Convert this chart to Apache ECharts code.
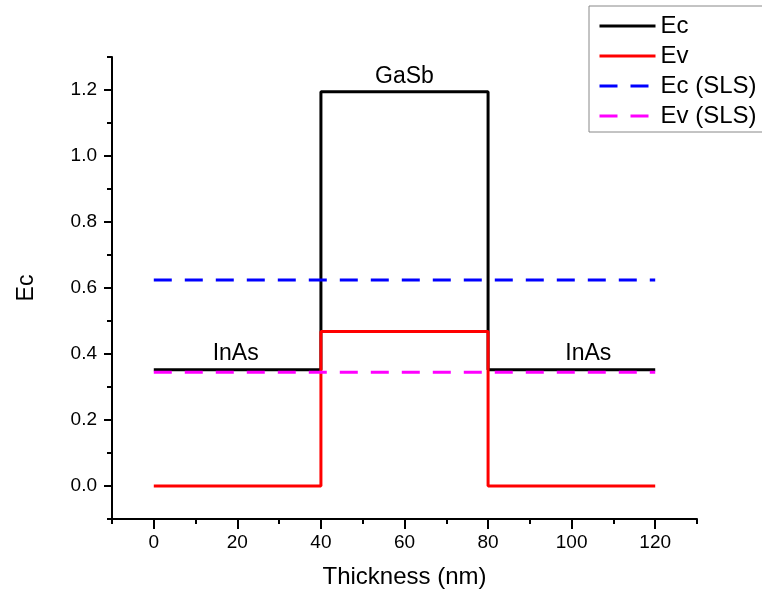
<!DOCTYPE html>
<html>
<head>
<meta charset="utf-8">
<script src="https://cdn.jsdelivr.net/npm/echarts@6/dist/echarts.min.js"></script>
<style>
html,body{margin:0;padding:0;background:#fff;}
#chart{width:762px;height:597px;}
</style>
</head>
<body>
<div id="chart"></div>
<script>
// ---- data ----
const layerBounds = [0, 40, 80, 120];          // nm
const ecLevels = [0.352, 1.195, 0.352];         // Ec per layer (InAs, GaSb, InAs)
const evLevels = [0.0, 0.468, 0.0];             // Ev per layer
const ecSLS = 0.624;
const evSLS = 0.345;
const seriesNames = ['Ec', 'Ev', 'Ec (SLS)', 'Ev (SLS)'];
const xTickLabels = [0, 20, 40, 60, 80, 100, 120];
const yTickLabels = [0.0, 0.2, 0.4, 0.6, 0.8, 1.0, 1.2];
const annotationText = ['GaSb', 'InAs', 'InAs'];
const annotationX = [60, 19.6, 104];
const annotationY = [1.207, 0.366, 0.366];

function stepPoints(bounds, levels) {
  const pts = [];
  for (let i = 0; i < levels.length; i++) {
    pts.push([bounds[i], levels[i]]);
    pts.push([bounds[i + 1], levels[i]]);
  }
  return pts;
}
function flat(bounds, v) {
  return [[bounds[0], v], [bounds[bounds.length - 1], v]];
}

const FONT = "'Liberation Sans', Arial, sans-serif";
const chart = echarts.init(document.getElementById('chart'), null, {renderer: 'canvas'});

const minorTickX = {min: -10, max: 130, interval: 10};
const minorTickY = {min: -0.1, max: 1.3, interval: 0.1};

const option = {
  animation: false,
  backgroundColor: '#fff',
  grid: {left: 112, right: 65, top: 57, bottom: 78, containLabel: false},
  legend: {
    data: seriesNames,
    orient: 'vertical',
    left: 589,
    top: 6,
    padding: [8, 20, 4, 9],
    itemWidth: 56,
    itemHeight: 14,
    itemGap: 6,
    borderColor: '#888',
    borderWidth: 1,
    itemStyle: {opacity: 0},
    lineStyle: {width: 3},
    textStyle: {fontFamily: FONT, fontSize: 24, color: '#000'}
  },
  xAxis: [
    {
      type: 'value',
      min: minorTickX.min, max: minorTickX.max, interval: minorTickX.interval,
      position: 'bottom',
      name: 'Thickness (nm)',
      nameLocation: 'middle',
      nameGap: 46,
      nameTextStyle: {fontFamily: FONT, fontSize: 24, color: '#000'},
      axisLine: {show: true, onZero: false, lineStyle: {color: '#000', width: 2}},
      axisTick: {show: true, inside: false, length: 5, lineStyle: {color: '#000', width: 2}},
      axisLabel: {
        show: true, margin: 14, customValues: xTickLabels,
        fontFamily: FONT, fontSize: 19, color: '#000',
        formatter: v => String(Math.round(v))
      },
      splitLine: {show: false}
    },
    {
      type: 'value',
      min: minorTickX.min, max: minorTickX.max, interval: minorTickX.interval,
      position: 'bottom',
      axisLine: {show: false, onZero: false},
      axisTick: {show: true, inside: false, length: 10, customValues: xTickLabels, lineStyle: {color: '#000', width: 2}},
      axisLabel: {show: false},
      splitLine: {show: false}
    }
  ],
  yAxis: [
    {
      type: 'value',
      min: minorTickY.min, max: minorTickY.max, interval: minorTickY.interval,
      position: 'left',
      name: 'Ec',
      nameLocation: 'middle',
      nameGap: 74,
      nameTextStyle: {fontFamily: FONT, fontSize: 23, color: '#000'},
      axisLine: {show: true, onZero: false, lineStyle: {color: '#000', width: 2}},
      axisTick: {show: true, inside: false, length: 5, lineStyle: {color: '#000', width: 2}},
      axisLabel: {
        show: true, margin: 15, customValues: yTickLabels,
        fontFamily: FONT, fontSize: 19, color: '#000',
        formatter: v => v.toFixed(1)
      },
      splitLine: {show: false}
    },
    {
      type: 'value',
      min: minorTickY.min, max: minorTickY.max, interval: minorTickY.interval,
      position: 'left',
      axisLine: {show: false, onZero: false},
      axisTick: {show: true, inside: false, length: 8, customValues: yTickLabels, lineStyle: {color: '#000', width: 2}},
      axisLabel: {show: false},
      splitLine: {show: false}
    }
  ],
  series: [
    {
      name: seriesNames[0], type: 'line', symbol: 'none',
      data: stepPoints(layerBounds, ecLevels),
      lineStyle: {color: '#000', width: 3}, itemStyle: {color: '#000'}
    },
    {
      name: seriesNames[1], type: 'line', symbol: 'none',
      data: stepPoints(layerBounds, evLevels),
      lineStyle: {color: '#ff0000', width: 3}, itemStyle: {color: '#ff0000'}
    },
    {
      name: seriesNames[2], type: 'line', symbol: 'none',
      data: flat(layerBounds, ecSLS),
      lineStyle: {color: '#0000ff', width: 3, type: [18, 13]}, itemStyle: {color: '#0000ff'}
    },
    {
      name: seriesNames[3], type: 'line', symbol: 'none',
      data: flat(layerBounds, evSLS),
      lineStyle: {color: '#ff00ff', width: 3, type: [18, 13]}, itemStyle: {color: '#ff00ff'}
    },
    {
      name: 'labels', type: 'scatter', symbolSize: 0.01,
      itemStyle: {color: '#000'},
      silent: true,
      data: annotationText.map((t, i) => ({value: [annotationX[i], annotationY[i]], name: t})),
      label: {
        show: true, position: 'top', distance: 0, formatter: p => p.name,
        fontFamily: FONT, fontSize: 23, color: '#000', opacity: 1
      }
    }
  ]
};
chart.setOption(option);
</script>
</body>
</html>
